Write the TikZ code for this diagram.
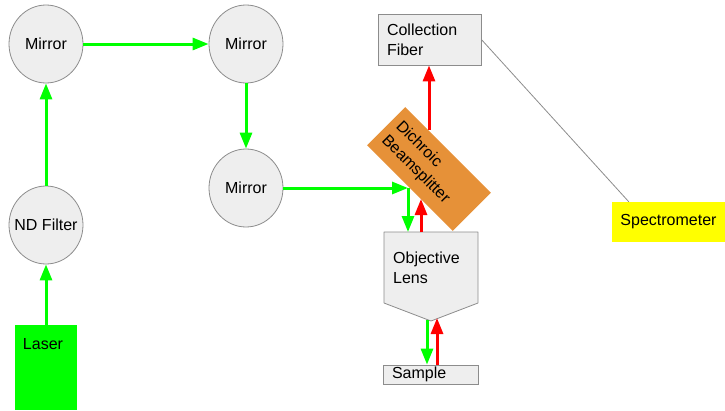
\documentclass[tikz,border=0pt]{standalone}
\usepackage{fontspec}
\setmainfont{Liberation Sans}
\usetikzlibrary{arrows.meta,calc,shapes.geometric}
\definecolor{beamgreen}{HTML}{00FF00}
\definecolor{beamred}{HTML}{FF0000}
\definecolor{partfill}{HTML}{EEEEEE}
\definecolor{partline}{HTML}{8C8C8C}
\definecolor{splitorange}{HTML}{E69138}
\definecolor{specyellow}{HTML}{FFFF00}

\begin{document}
\begin{tikzpicture}[x=1pt,y=-1pt,
  every node/.style={font=\fontsize{16}{20}\selectfont, text=black},
  optic/.style={ellipse, draw=partline, line width=0.8pt, fill=partfill,
    minimum width=74pt, minimum height=78pt, inner sep=0pt},
  part/.style={rectangle, draw=partline, line width=0.8pt, fill=partfill, align=left},
  lensbody/.style={draw=partline, line width=0.8pt, fill=partfill, line join=round},
  greenbeam/.style={draw=beamgreen, line width=3pt, -{Triangle[length=16pt,width=12pt]}},
  redbeam/.style={draw=beamred, line width=3pt, -{Triangle[length=16pt,width=12pt]}},
  fiberlink/.style={draw=partline, line width=0.8pt}]

\useasboundingbox (0,0) rectangle (725,410);

% laser source and beam conditioning (zero-width labels keep the discs at fixed size)
\node[fill=beamgreen, minimum width=62pt, minimum height=85pt, inner sep=0pt,
  label={[anchor=north, inner sep=0pt, yshift=-13pt, xshift=-3pt]north:Laser}]
  (laser) at (46,367.5) {};
\node[optic] (nd) at (46,225) {\makebox[0pt]{ND Filter}};
\node[optic] (m1) at (46,44) {\makebox[0pt]{Mirror}};
\node[optic] (m2) at (246,44) {\makebox[0pt]{Mirror}};
\node[optic] (m3) at (246,188) {\makebox[0pt]{Mirror}};

% dichroic beamsplitter
\node[fill=splitorange, rotate=-45, minimum width=121pt, minimum height=54pt,
  text width=107pt, inner xsep=7pt, inner ysep=0pt, align=left]
  (bs) at (429,169) {Dichroic\\Beamsplitter};

% collection optics
\node[part, minimum width=103pt, minimum height=51pt, text width=85pt,
  inner xsep=9pt, inner ysep=0pt] (fiber) at (429.5,39.5) {Collection\\Fiber};
\node[fill=specyellow, minimum width=113pt, minimum height=40pt, inner sep=0pt]
  (spec) at (668.5,222) {Spectrometer};

% objective lens body
\coordinate (objTL) at (384,232);
\coordinate (objTR) at (478,232);
\coordinate (objRB) at (478,303);
\coordinate (objTip) at (431,321);
\coordinate (objLB) at (384,303);
\draw[lensbody] (objTL) -- (objTR) -- (objRB) -- (objTip) -- (objLB) -- cycle;
\node[align=left, anchor=west, inner sep=0pt] (objtext) at (393,268) {Objective\\Lens};

% sample
\node[part, minimum width=95pt, minimum height=19pt, text width=77pt,
  inner xsep=9pt, inner ysep=0pt] (sample) at (430.5,374.5) {Sample};

% beam entry and exit points
\coordinate (bsIn) at (408,188);
\coordinate (objInG) at (408,232);
\coordinate (objOutR) at (421,232);
\coordinate (bsRetR) at (421,199);
\coordinate (bsOutR) at (429,130);
\coordinate (objOutG) at (427,320);
\coordinate (objInR) at (437,318);

% excitation path
\draw[greenbeam] (laser.north) -- (nd.south);
\draw[greenbeam] (nd.north) -- (m1.south);
\draw[greenbeam] (m1.east) -- (m2.west);
\draw[greenbeam] (m2.south) -- (m3.north);
\draw[greenbeam] (m3.east) -- (bsIn);
\draw[greenbeam] (bsIn) -- (objInG);
\draw[greenbeam] (objOutG) -- (objOutG |- sample.north);

% collected signal path
\draw[redbeam] (objInR |- sample.north) -- (objInR);
\draw[redbeam] (objOutR) -- (bsRetR);
\draw[redbeam] (bsOutR) -- (bsOutR |- fiber.south);

% fiber to spectrometer
\draw[fiberlink] (fiber.east) -- ($(spec.north west)+(17,0)$);
\end{tikzpicture}
\end{document}
